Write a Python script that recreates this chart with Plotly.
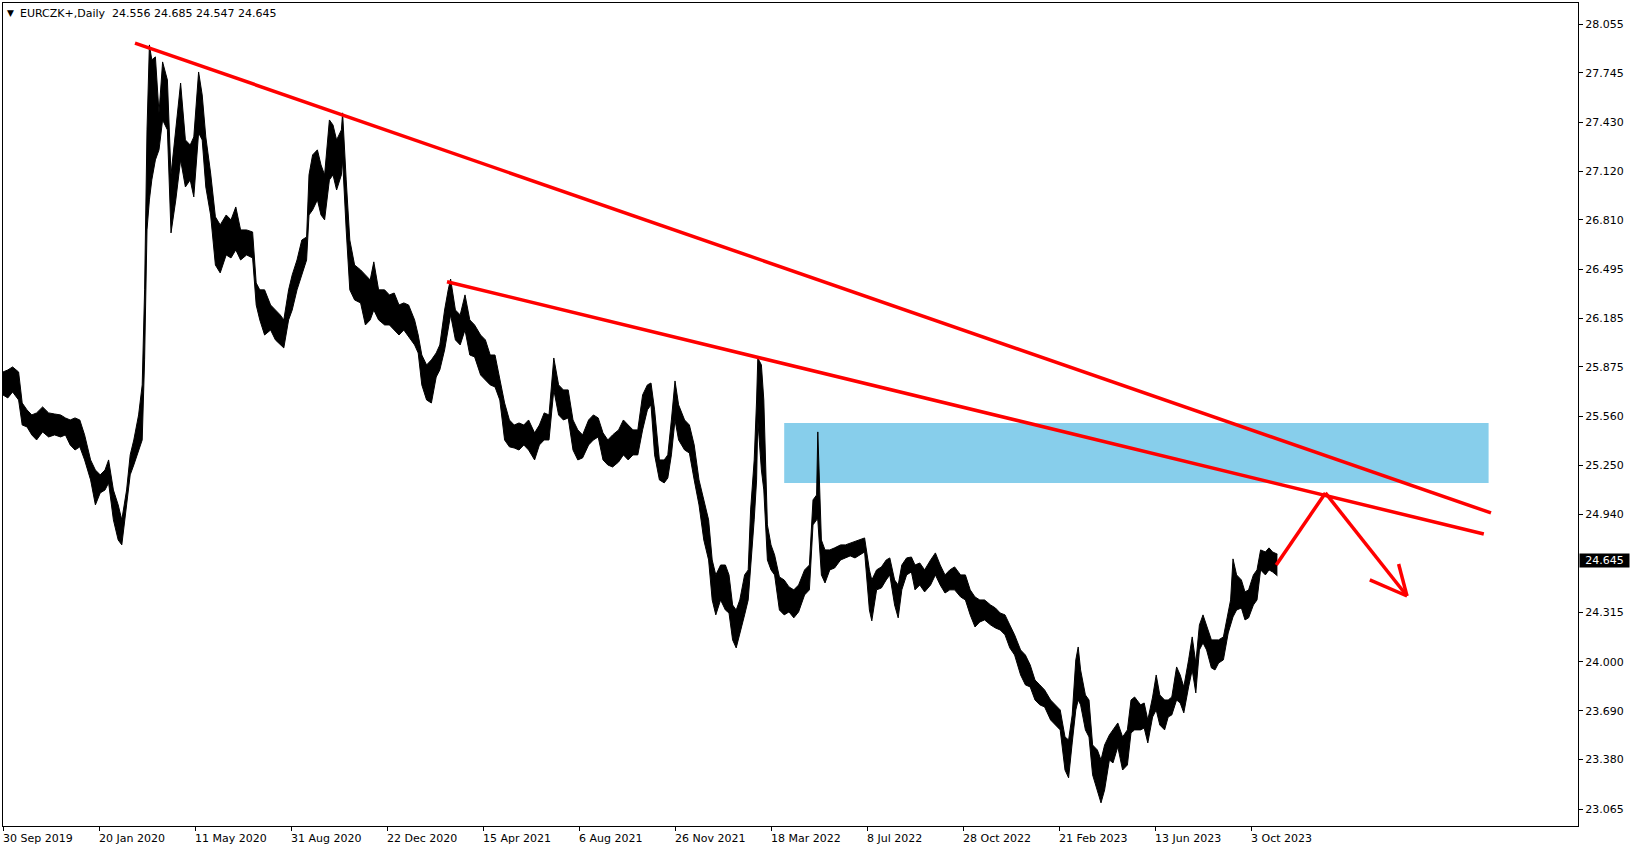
import plotly.graph_objects as go

# ---------------- data (bar index since 30 Sep 2019, daily high/low envelope) ----------------
bar_idx = [0,4,8,13,16,20,24,28,33,38,43,48,52,56,60,64,68,73,77,81,85,88,92,96,99,103,106,109,113,116,
           118,120,122,124,127,130,133,137,140,144,148,152,156,159,163,166,169,173,177,181,186,190,194,198,203,208,211,214,218,223,
           227,231,234,238,241,245,249,253,255,258,262,265,268,272,275,278,282,283,286,289,293,298,302,306,309,313,318,322,326,330,
           334,338,343,346,349,353,357,361,364,368,371,373,377,381,385,389,393,398,402,406,410,414,418,422,426,430,434,438,443,447,
           451,455,459,463,467,471,475,479,483,488,492,496,500,504,508,513,517,521,525,529,533,537,540,543,547,551,554,557,560,563,
           568,572,576,580,584,588,591,594,598,602,605,608,611,614,618,621,623,626,628,629,632,634,637,640,643,647,651,655,659,663,
           668,672,675,678,679,682,685,689,693,698,702,706,710,714,718,722,724,728,732,736,739,743,746,749,753,757,760,764,768,773,
           777,781,785,789,793,798,802,806,810,814,818,823,827,831,835,839,843,848,852,856,860,864,868,873,877,881,885,888,891,894,
           896,898,902,905,908,912,915,918,922,925,929,933,937,940,943,948,951,954,958,961,964,968,971,974,978,981,984,988,991,994,
           997,1000,1003,1007,1010,1013,1017,1021,1023,1025,1028,1032,1035,1038,1042,1045,1048,1052,1055,1058,1062]

high = [25.843,25.856,25.875,25.843,25.646,25.602,25.570,25.583,25.621,25.583,25.576,25.570,25.551,25.538,25.551,25.538,25.443,25.284,25.220,25.189,
        25.220,25.284,25.093,24.998,24.903,25.093,25.316,25.411,25.570,25.761,26.365,27.382,27.922,27.827,27.846,27.490,27.814,27.699,27.096,27.382,
        27.680,27.318,27.286,27.337,27.750,27.604,27.337,27.108,26.829,26.778,26.841,26.810,26.892,26.746,26.746,26.733,26.409,26.365,26.365,26.269,
        26.237,26.206,26.174,26.365,26.460,26.555,26.682,26.701,27.096,27.223,27.255,27.159,27.096,27.445,27.413,27.318,27.382,27.490,27.064,26.682,
        26.523,26.492,26.460,26.428,26.543,26.365,26.365,26.333,26.345,26.269,26.282,26.269,26.174,26.078,25.951,25.888,25.920,25.964,26.015,26.237,
        26.365,26.434,26.237,26.206,26.333,26.174,26.142,26.078,26.047,25.951,25.951,25.792,25.646,25.538,25.506,25.519,25.506,25.538,25.456,25.506,
        25.583,25.570,25.932,25.761,25.729,25.729,25.538,25.475,25.443,25.538,25.570,25.551,25.456,25.411,25.443,25.475,25.538,25.506,25.475,25.475,
        25.697,25.761,25.773,25.602,25.284,25.284,25.316,25.538,25.786,25.634,25.538,25.506,25.379,25.157,25.030,24.903,24.648,24.553,24.616,24.616,
        24.553,24.362,24.330,24.394,24.553,24.585,24.966,25.284,25.665,25.932,25.888,25.665,24.871,24.744,24.680,24.540,24.521,24.477,24.458,24.489,
        24.585,24.616,25.030,25.061,25.462,24.775,24.712,24.712,24.725,24.744,24.744,24.756,24.763,24.775,24.788,24.585,24.521,24.585,24.604,24.648,
        24.661,24.521,24.489,24.616,24.661,24.667,24.616,24.629,24.585,24.648,24.693,24.616,24.553,24.585,24.604,24.553,24.553,24.458,24.413,24.394,
        24.394,24.362,24.343,24.311,24.299,24.235,24.172,24.076,24.044,23.981,23.885,23.854,23.822,23.758,23.727,23.695,23.523,23.504,23.663,24.013,
        24.095,23.949,23.790,23.758,23.472,23.440,23.377,23.472,23.536,23.568,23.612,23.523,23.568,23.758,23.777,23.727,23.739,23.631,23.777,23.917,
        23.790,23.758,23.758,23.777,23.968,23.917,23.841,24.013,24.159,23.993,24.235,24.299,24.235,24.140,24.140,24.140,24.159,24.330,24.394,24.655,
        24.553,24.521,24.445,24.458,24.553,24.585,24.712,24.699,24.725,24.699,24.685]

low = [25.697,25.678,25.716,25.665,25.506,25.494,25.443,25.411,25.462,25.430,25.443,25.430,25.443,25.379,25.347,25.367,25.284,25.157,24.998,25.074,
       25.093,25.138,24.903,24.775,24.744,24.998,25.189,25.252,25.347,25.411,25.920,26.746,26.937,27.064,27.191,27.255,27.445,27.382,26.727,26.937,
       27.191,27.019,27.064,26.956,27.363,27.318,27.019,26.841,26.523,26.473,26.587,26.568,26.619,26.555,26.587,26.568,26.269,26.174,26.078,26.110,
       26.047,26.015,25.996,26.174,26.237,26.365,26.460,26.555,26.841,26.873,26.937,26.841,26.810,27.064,27.096,27.000,27.096,27.191,26.746,26.365,
       26.301,26.282,26.142,26.174,26.237,26.174,26.142,26.142,26.110,26.078,26.110,26.066,26.015,25.964,25.761,25.665,25.646,25.811,25.856,25.983,
       26.110,26.206,26.047,26.015,26.110,25.951,25.939,25.824,25.792,25.761,25.748,25.665,25.411,25.367,25.360,25.347,25.379,25.347,25.284,25.379,
       25.411,25.411,25.729,25.570,25.538,25.551,25.347,25.284,25.297,25.379,25.411,25.430,25.284,25.252,25.239,25.271,25.316,25.284,25.316,25.316,
       25.475,25.602,25.634,25.316,25.157,25.138,25.169,25.316,25.538,25.411,25.347,25.328,25.157,24.998,24.775,24.648,24.394,24.299,24.394,24.330,
       24.311,24.140,24.089,24.172,24.299,24.394,24.585,24.903,25.157,25.538,25.220,25.093,24.648,24.585,24.553,24.330,24.299,24.318,24.280,24.318,
       24.426,24.458,24.871,24.903,24.903,24.553,24.502,24.585,24.597,24.648,24.661,24.674,24.661,24.680,24.699,24.330,24.261,24.458,24.470,24.521,
       24.553,24.362,24.280,24.458,24.553,24.572,24.458,24.489,24.445,24.489,24.553,24.489,24.438,24.458,24.458,24.413,24.394,24.299,24.222,24.254,
       24.267,24.235,24.216,24.203,24.172,24.089,24.044,23.917,23.854,23.841,23.758,23.727,23.714,23.631,23.599,23.568,23.313,23.263,23.485,23.695,
       23.758,23.727,23.568,23.523,23.282,23.186,23.104,23.186,23.377,23.358,23.460,23.313,23.345,23.549,23.568,23.568,23.580,23.485,23.650,23.695,
       23.599,23.568,23.650,23.663,23.758,23.739,23.676,23.841,23.949,23.803,24.076,24.121,24.076,23.962,23.949,23.993,24.013,24.184,24.235,24.286,
       24.330,24.343,24.267,24.280,24.362,24.394,24.585,24.553,24.585,24.572,24.547]

if not (len(bar_idx) == len(high) == len(low)):
    raise SystemExit(f"length mismatch {len(bar_idx)} {len(high)} {len(low)}")

tick_bars = [0, 80, 160, 240, 320, 400, 480, 560, 640, 720, 800, 880, 960, 1040]
tick_dates = ["30 Sep 2019", "20 Jan 2020", "11 May 2020", "31 Aug 2020", "22 Dec 2020", "15 Apr 2021",
              "6 Aug 2021", "26 Nov 2021", "18 Mar 2022", "8 Jul 2022", "28 Oct 2022", "21 Feb 2023",
              "13 Jun 2023", "3 Oct 2023"]
price_ticks = [28.055, 27.745, 27.430, 27.120, 26.810, 26.495, 26.185, 25.875, 25.560,
               25.250, 24.940, 24.315, 24.000, 23.690, 23.380, 23.065]

symbol = "EURCZK+,Daily"
ohlc_last = [24.556, 24.685, 24.547, 24.645]
last_close = 24.645

# drawn objects (bar index, price)
upper_trend_bars = [110, 1240]
upper_trend_prices = [27.934, 24.947]
lower_trend_bars = [370, 1234]
lower_trend_prices = [26.417, 24.813]
zone_bars = [651, 1238]
zone_prices = [25.137, 25.519]
arrow_bars = [1061, 1102, 1170]
arrow_prices = [24.616, 25.074, 24.419]
arrow_wing_bars = [1139, 1163]
arrow_wing_prices = [24.521, 24.622]

FONT = "DejaVu Sans"
RED = "#FF0000"

fig = go.Figure()

fig.add_trace(go.Scatter(x=bar_idx, y=low, mode="lines",
                         line=dict(color="black", width=1), hoverinfo="skip", showlegend=False))
fig.add_trace(go.Scatter(x=bar_idx, y=high, mode="lines", fill="tonexty", fillcolor="black",
                         line=dict(color="black", width=1), hoverinfo="skip", showlegend=False))

shapes = []
shapes.append(dict(type="rect", xref="x", yref="y", layer="below",
                   x0=zone_bars[0], x1=zone_bars[1], y0=zone_prices[0], y1=zone_prices[1],
                   fillcolor="#87CEEB", line=dict(width=0)))
shapes.append(dict(type="line", xref="x", yref="y",
                   x0=upper_trend_bars[0], x1=upper_trend_bars[1],
                   y0=upper_trend_prices[0], y1=upper_trend_prices[1],
                   line=dict(color=RED, width=3.5)))
shapes.append(dict(type="line", xref="x", yref="y",
                   x0=lower_trend_bars[0], x1=lower_trend_bars[1],
                   y0=lower_trend_prices[0], y1=lower_trend_prices[1],
                   line=dict(color=RED, width=3.5)))
for i in range(len(arrow_bars) - 1):
    shapes.append(dict(type="line", xref="x", yref="y",
                       x0=arrow_bars[i], x1=arrow_bars[i + 1],
                       y0=arrow_prices[i], y1=arrow_prices[i + 1],
                       line=dict(color=RED, width=3.5)))
for wb, wp in zip(arrow_wing_bars, arrow_wing_prices):
    shapes.append(dict(type="line", xref="x", yref="y",
                       x0=wb, x1=arrow_bars[-1], y0=wp, y1=arrow_prices[-1],
                       line=dict(color=RED, width=3.5)))

annotations = []
for b, d in zip(tick_bars, tick_dates):
    annotations.append(dict(x=b, y=0, xref="x", yref="paper", text=d, showarrow=False,
                            xanchor="left", yanchor="middle", xshift=-2, yshift=-12,
                            font=dict(family=FONT, size=11, color="black")))
annotations.append(dict(x=0, y=1, xref="paper", yref="paper", text="▼", showarrow=False,
                        xanchor="left", yanchor="middle", xshift=2, yshift=-10,
                        font=dict(family=FONT, size=9, color="black")))
annotations.append(dict(x=0, y=1, xref="paper", yref="paper",
                        text=symbol + "\u00a0\u00a0" + " ".join(f"{v:.3f}" for v in ohlc_last),
                        showarrow=False, xanchor="left", yanchor="middle", xshift=15, yshift=-10,
                        font=dict(family=FONT, size=11, color="black")))
annotations.append(dict(x=1, y=last_close, xref="paper", yref="y", text=f"{last_close:.3f}",
                        showarrow=False, xanchor="left", yanchor="middle", xshift=1,
                        bgcolor="black", borderpad=1, width=47, height=11,
                        font=dict(family=FONT, size=11, color="white")))

fig.update_layout(
    width=1635, height=850,
    margin=dict(l=3, r=57, t=3, b=24),
    paper_bgcolor="white", plot_bgcolor="white",
    showlegend=False,
    shapes=shapes, annotations=annotations,
    font=dict(family=FONT, size=11, color="black"),
    xaxis=dict(range=[0, 1312.5], showgrid=False, zeroline=False,
               showline=True, mirror=True, linecolor="black", linewidth=1,
               tickmode="array", tickvals=tick_bars, showticklabels=False,
               ticks="outside", ticklen=4, tickcolor="black", tickwidth=1),
    yaxis=dict(range=[22.957, 28.1885], side="right", showgrid=False, zeroline=False,
               showline=True, mirror=True, linecolor="black", linewidth=1,
               tickmode="array", tickvals=price_ticks, ticktext=[f"{v:.3f}" for v in price_ticks],
               ticks="outside", ticklen=4, tickcolor="black", tickwidth=1,
               tickfont=dict(family=FONT, size=11, color="black")),
)

fig.write_html("out.html", config={"displayModeBar": False})

# remove the default page margin so the figure sits at the window's top-left corner
with open("out.html", "r", encoding="utf-8") as fh:
    page = fh.read()
page = page.replace("<head>", "<head><style>html,body{margin:0;padding:0;overflow:hidden;}</style>", 1)
with open("out.html", "w", encoding="utf-8") as fh:
    fh.write(page)
